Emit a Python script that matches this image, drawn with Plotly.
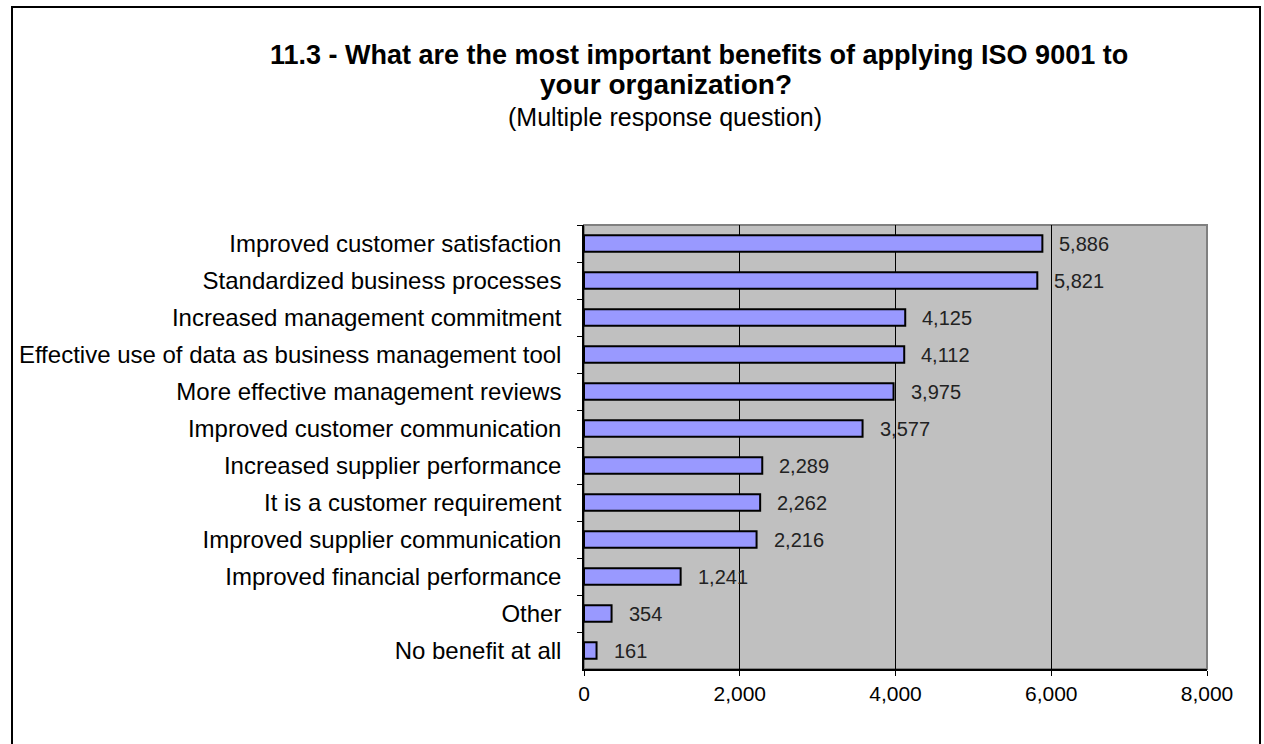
import plotly.graph_objects as go

# survey data (top to bottom as shown)
benefits = [
    "Improved customer satisfaction",
    "Standardized business processes",
    "Increased management commitment",
    "Effective use of data as business management tool",
    "More effective management reviews",
    "Improved customer communication",
    "Increased supplier performance",
    "It is a customer requirement",
    "Improved supplier communication",
    "Improved financial performance",
    "Other",
    "No benefit at all",
]
responses = [5886, 5821, 4125, 4112, 3975, 3577, 2289, 2262, 2216, 1241, 354, 161]
x_ticks = [0, 2000, 4000, 6000, 8000]

W, H = 1264, 744
L, R, T, B = 584, 1207, 225, 669
FONT = "Liberation Sans, Arial, sans-serif"


def px(x):
    return (x - L) / (R - L)


def py(y):
    return (B - y) / (B - T)


fig = go.Figure()
fig.add_trace(go.Bar(
    y=benefits,
    x=responses,
    orientation="h",
    width=0.45,
    marker=dict(color="#9999FF", line=dict(color="black", width=2)),
    hoverinfo="x+y",
))

annotations = []
for name, val in zip(benefits, responses):
    annotations.append(dict(
        x=val, y=name, xref="x", yref="y", text=f"{val:,}",
        showarrow=False, xanchor="left", xshift=15,
        font=dict(family=FONT, size=20, color="#222222"),
    ))

# title lines
annotations += [
    dict(x=px(699), y=py(55), xref="paper", yref="paper", showarrow=False,
         text="<b>11.3 - What are the most important benefits of applying ISO 9001 to</b>",
         font=dict(family=FONT, size=27, color="black"), xanchor="center", yanchor="middle"),
    dict(x=px(666), y=py(85), xref="paper", yref="paper", showarrow=False,
         text="<b>your organization?</b>",
         font=dict(family=FONT, size=28, color="black"), xanchor="center", yanchor="middle"),
    dict(x=px(665), y=py(117), xref="paper", yref="paper", showarrow=False,
         text="(Multiple response question)",
         font=dict(family=FONT, size=25, color="black"), xanchor="center", yanchor="middle"),
]

shapes = [
    # outer chart frame
    dict(type="rect", xref="paper", yref="paper",
         x0=px(12), x1=px(1260), y0=py(760), y1=py(7),
         line=dict(color="black", width=2)),
    # plot area border
    dict(type="rect", xref="paper", yref="paper", x0=0, x1=1, y0=0, y1=1,
         line=dict(color="#808080", width=2), layer="below"),
]

fig.update_layout(
    width=W, height=H,
    margin=dict(l=L, r=W - R, t=T, b=H - B),
    paper_bgcolor="white",
    plot_bgcolor="#C0C0C0",
    showlegend=False,
    font=dict(family=FONT, size=16, color="black"),
    annotations=annotations,
    shapes=shapes,
)
fig.update_xaxes(
    range=[0, 8000], tickvals=x_ticks, tickformat=",",
    showgrid=True, gridcolor="black", gridwidth=1,
    zeroline=False, showline=True, linecolor="black", linewidth=1.5,
    ticks="outside", ticklen=5, tickcolor="black",
    tickfont=dict(family=FONT, size=21, color="black"),
    fixedrange=True,
)
fig.update_yaxes(
    autorange="reversed", showgrid=False,
    showline=True, linecolor="black", linewidth=1.5,
    ticks="outside", ticklen=5, tickcolor="black", tickson="boundaries",
    tickfont=dict(family=FONT, size=24, color="black"),
    ticklabelstandoff=16,
    fixedrange=True,
)

fig.write_html(
    "out.html",
    config={"displayModeBar": False},
    post_script="document.body.style.margin='0';",
)
